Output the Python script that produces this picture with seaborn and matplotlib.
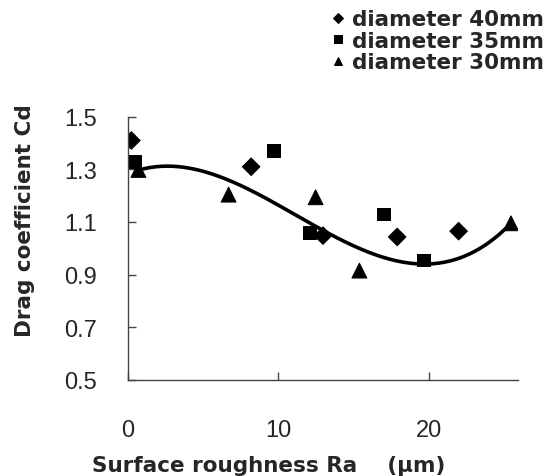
import numpy as np
import pandas as pd
import matplotlib
matplotlib.use("Agg")
import matplotlib.pyplot as plt
import seaborn as sns

# values
ra_40 = [0.24, 8.2, 12.97, 17.9, 21.98]
cd_40 = [1.41, 1.31, 1.048, 1.043, 1.065]
ra_35 = [0.44, 9.69, 12.06, 16.97, 19.67]
cd_35 = [1.33, 1.371, 1.061, 1.13, 0.955]
ra_30 = [0.71, 6.7, 12.48, 15.39, 25.46]
cd_30 = [1.298, 1.204, 1.194, 0.915, 1.095]
series_names = ["diameter 40mm", "diameter 35mm", "diameter 30mm"]

# trendline as drawn in the picture (read at a few places)
trend_ra = [0.7, 0.93, 3.15, 5.36, 7.58, 9.8, 12.24, 12.8, 15.01, 17.23, 19.45, 21.66, 23.89, 25.2, 25.5]
trend_cd = [1.295, 1.299, 1.315, 1.289, 1.238, 1.169, 1.093, 1.067, 1.010, 0.959, 0.940, 0.959, 1.023, 1.080, 1.092]

x_ticks = [0, 10, 20]
y_ticks = [0.5, 0.7, 0.9, 1.1, 1.3, 1.5]

df = pd.DataFrame({
    "Ra": ra_40 + ra_35 + ra_30,
    "Cd": cd_40 + cd_35 + cd_30,
    "series": [series_names[0]] * 5 + [series_names[1]] * 5 + [series_names[2]] * 5,
})

# smooth cubic through the read trendline values
coef = np.polyfit(trend_ra, trend_cd, 3)
xs = np.linspace(min(trend_ra), max(trend_ra), 200)
trend = pd.DataFrame({"Ra": xs, "Cd": np.polyval(coef, xs)})

sns.set_style("white")
plt.rcParams["font.family"] = ["DejaVu Sans"]

fig = plt.figure(figsize=(5.53, 4.77), dpi=100)
ax = fig.add_axes([0.231, 0.202, 0.705, 0.551])

sns.lineplot(data=trend, x="Ra", y="Cd", color="black", linewidth=2.6, ax=ax, legend=False)
sns.scatterplot(data=df, x="Ra", y="Cd", style="series", size="series",
                markers={series_names[0]: "D", series_names[1]: "s", series_names[2]: "^"},
                sizes={series_names[0]: 80, series_names[1]: 85, series_names[2]: 115},
                color="black", edgecolor="black", ax=ax)

ax.set_xlim(0, 25.9)
ax.set_ylim(0.5, 1.5)
ax.set_xticks(x_ticks)
ax.set_yticks(y_ticks)
ax.set_yticklabels([f"{v:.1f}" for v in y_ticks])
ax.tick_params(axis="both", direction="in", length=6, width=1, color="#444444",
               labelsize=17, left=True, bottom=True)
ax.tick_params(axis="x", pad=28)
ax.tick_params(axis="y", pad=22)
for lab in ax.get_xticklabels() + ax.get_yticklabels():
    lab.set_family(["Liberation Sans", "DejaVu Sans"])

for side in ["top", "right"]:
    ax.spines[side].set_visible(False)
for side in ["left", "bottom"]:
    ax.spines[side].set_color("#444444")
    ax.spines[side].set_linewidth(1)

ax.set_xlabel("")
ax.set_ylabel("")
fig.text(0.045, 0.537, "Drag coefficient Cd", rotation=90, ha="center", va="center",
         fontsize=15.5, fontweight="bold")
fig.text(0.486, 0.024, "Surface roughness Ra    (\u03bcm)", ha="center", va="center",
         fontsize=15.5, fontweight="bold")

handles, labels = ax.get_legend_handles_labels()
ax.legend(handles, labels, loc="upper left", bbox_to_anchor=(0.592, 0.978),
          bbox_transform=fig.transFigure, frameon=False, markerscale=0.6,
          handletextpad=0.15, handlelength=1.0, labelspacing=0.06,
          borderpad=0, borderaxespad=0,
          prop={"weight": "bold", "size": 15.5})

fig.savefig("out.png", dpi=100)
